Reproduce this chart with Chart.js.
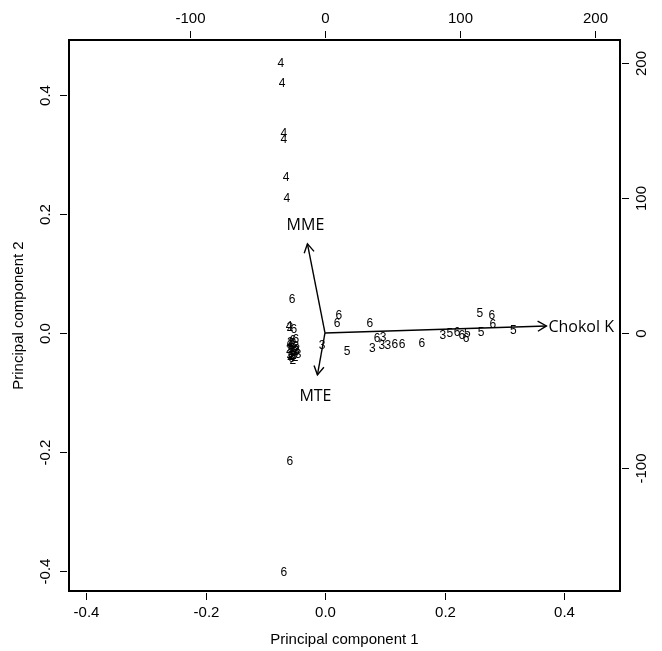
<!DOCTYPE html>
<html lang="en">
<head>
    <meta charset="UTF-8">
    <title>PCA Biplot</title>
    <script src="https://cdn.jsdelivr.net/npm/chart.js"></script>
    <style>
        html, body { margin: 0; padding: 0; background: #fff; }
        canvas { display: block; }
    </style>
</head>
<body>
    <canvas id="biplot" width="662" height="651"></canvas>

    <script>
        // Scores on principal components 1 and 2, with the group shown as the mark
        const pc1 = [
            -0.074, -0.072, -0.069, -0.069, -0.065, -0.064,
            -0.055, -0.059, -0.069,
            -0.060, -0.059, -0.052, -0.049,
            -0.057, -0.055, -0.057, -0.055, -0.054, -0.047, -0.045, -0.049,
            -0.054, -0.052, -0.059, -0.060, -0.059, -0.050,
            -0.058, -0.056, -0.053, -0.051, -0.058, -0.056, -0.048, -0.053,
            -0.005,
            0.023, 0.020, 0.075, 0.037, 0.079, 0.087, 0.097, 0.095, 0.105,
            0.117, 0.129, 0.162, 0.197, 0.209, 0.221, 0.229, 0.238, 0.236,
            0.259, 0.279, 0.281, 0.261, 0.315
        ];
        const pc2 = [
            0.454, 0.420, 0.336, 0.326, 0.262, 0.227,
            0.057, -0.215, -0.402,
            0.012, 0.010, 0.007, -0.010,
            -0.017, -0.024, -0.030, -0.037, -0.045, -0.027, -0.034, -0.022,
            -0.012, -0.029, -0.020, -0.027, -0.034, -0.040,
            -0.015, -0.019, -0.025, -0.032, -0.038, -0.042, -0.030, -0.036,
            -0.020,
            0.030, 0.018, 0.018, -0.029, -0.024, -0.008, -0.007, -0.020, -0.020,
            -0.018, -0.018, -0.017, -0.003, 0.000, 0.002, -0.003, 0.000, -0.008,
            0.034, 0.030, 0.015, 0.002, 0.005
        ];
        const groups = [
            '4', '4', '4', '4', '4', '4',
            '6', '6', '6',
            '4', '2', '6', '6',
            '2', '2', '2', '2', '2', '3', '3', '3',
            '6', '6', '6', '2', '2', '2',
            '2', '6', '2', '3', '2', '6', '3', '2',
            '3',
            '6', '6', '6', '5', '3', '6', '3', '3', '3',
            '6', '6', '6', '3', '5', '6', '6', '5', '6',
            '5', '6', '6', '5', '5'
        ];

        // Variable loadings (top / right axes)
        const varNames = ['MME', 'MTE', 'Chokol K'];
        const loadX = [-13, -5.6, 164];
        const loadY = [66, -31, 5.2];

        // Tick labels
        const pcTicks = [-0.4, -0.2, 0.0, 0.2, 0.4];
        const loadTicks = [-100, 0, 100, 200];

        const LABEL_FONT = '"Liberation Sans", Arial, sans-serif';

        const scoreDataset = {
            label: 'scores',
            data: pc1.map((v, i) => ({ x: v, y: pc2[i] })),
            pointRadius: 0,
            xAxisID: 'x',
            yAxisID: 'y'
        };

        const arrowDatasets = varNames.map((name, i) => ({
            label: name,
            data: [{ x: 0, y: 0 }, { x: loadX[i], y: loadY[i] }],
            showLine: true,
            borderColor: '#000',
            borderWidth: 1.4,
            pointRadius: 0,
            xAxisID: 'x2',
            yAxisID: 'y2'
        }));

        // Draws the group digits, arrow heads, variable names, box and axes
        const biplotPlugin = {
            id: 'biplot',
            afterDatasetsDraw(chart) {
                const ctx = chart.ctx;
                ctx.save();
                ctx.fillStyle = '#000';
                ctx.strokeStyle = '#000';

                ctx.font = '12px ' + LABEL_FONT;
                ctx.textAlign = 'center';
                ctx.textBaseline = 'alphabetic';
                chart.getDatasetMeta(0).data.forEach((pt, i) => {
                    ctx.fillText(groups[i], pt.x, pt.y + 4.3);
                });

                ctx.font = '16px "Open Sans", sans-serif';
                varNames.forEach((name, i) => {
                    const pts = chart.getDatasetMeta(i + 1).data;
                    const o = pts[0], t = pts[1];
                    const ang = Math.atan2(t.y - o.y, t.x - o.x);
                    const len = 10, spread = Math.PI / 6;
                    ctx.lineWidth = 1.4;
                    ctx.beginPath();
                    ctx.moveTo(t.x - len * Math.cos(ang - spread), t.y - len * Math.sin(ang - spread));
                    ctx.lineTo(t.x, t.y);
                    ctx.lineTo(t.x - len * Math.cos(ang + spread), t.y - len * Math.sin(ang + spread));
                    ctx.stroke();

                    const dx = t.x - o.x, dy = t.y - o.y;
                    if (Math.abs(dx) > Math.abs(dy)) {
                        ctx.textAlign = 'left';
                        ctx.fillText(name, t.x + 2, t.y + 6);
                    } else {
                        ctx.textAlign = 'center';
                        ctx.fillText(name, t.x - 2, t.y + Math.sign(dy) * 20 + 6);
                    }
                });
                ctx.restore();
            },
            afterDraw(chart) {
                const ctx = chart.ctx;
                const a = chart.chartArea;
                const s = chart.scales;
                ctx.save();
                ctx.strokeStyle = '#000';
                ctx.fillStyle = '#000';

                ctx.lineWidth = 2;
                ctx.strokeRect(a.left, a.top, a.right - a.left, a.bottom - a.top);

                ctx.lineWidth = 1;
                ctx.font = '15px ' + LABEL_FONT;
                ctx.textAlign = 'center';
                ctx.textBaseline = 'alphabetic';
                const capH = 10.7;

                pcTicks.forEach(v => {
                    const px = Math.round(s.x.getPixelForValue(v)) + 0.5;
                    ctx.beginPath();
                    ctx.moveTo(px, a.bottom + 2);
                    ctx.lineTo(px, a.bottom + 9);
                    ctx.stroke();
                    ctx.fillText(v.toFixed(1), px, 612 + capH / 2);

                    const py = Math.round(s.y.getPixelForValue(v)) + 0.5;
                    ctx.beginPath();
                    ctx.moveTo(a.left - 2, py);
                    ctx.lineTo(a.left - 9, py);
                    ctx.stroke();
                    ctx.save();
                    ctx.translate(45, py);
                    ctx.rotate(-Math.PI / 2);
                    ctx.fillText(v.toFixed(1), 0, capH / 2);
                    ctx.restore();
                });

                loadTicks.forEach(v => {
                    const px = Math.round(s.x2.getPixelForValue(v)) + 0.5;
                    ctx.beginPath();
                    ctx.moveTo(px, a.top - 2);
                    ctx.lineTo(px, a.top - 9);
                    ctx.stroke();
                    ctx.fillText(String(v), px, 18 + capH / 2);

                    const py = Math.round(s.y2.getPixelForValue(v)) + 0.5;
                    ctx.beginPath();
                    ctx.moveTo(a.right + 2, py);
                    ctx.lineTo(a.right + 9, py);
                    ctx.stroke();
                    ctx.save();
                    ctx.translate(641, py);
                    ctx.rotate(-Math.PI / 2);
                    ctx.fillText(String(v), 0, capH / 2);
                    ctx.restore();
                });

                ctx.fillText('Principal component 1', (a.left + a.right) / 2, 639 + capH / 2);
                ctx.save();
                ctx.translate(18, (a.top + a.bottom) / 2);
                ctx.rotate(-Math.PI / 2);
                ctx.fillText('Principal component 2', 0, capH / 2);
                ctx.restore();

                ctx.restore();
            }
        };

        new Chart(document.getElementById('biplot').getContext('2d'), {
            type: 'scatter',
            data: { datasets: [scoreDataset, ...arrowDatasets] },
            options: {
                responsive: false,
                animation: false,
                layout: { padding: { left: 69, right: 42, top: 40, bottom: 60 } },
                scales: {
                    x: { type: 'linear', display: false, min: -0.4285, max: 0.4937 },
                    y: { type: 'linear', display: false, min: -0.4336, max: 0.4924 },
                    x2: { type: 'linear', display: false, position: 'top', min: -189.6, max: 218.5 },
                    y2: { type: 'linear', display: false, position: 'right', min: -191.1, max: 217 }
                },
                plugins: {
                    legend: { display: false },
                    tooltip: { enabled: false }
                }
            },
            plugins: [biplotPlugin]
        });
    </script>
</body>
</html>
